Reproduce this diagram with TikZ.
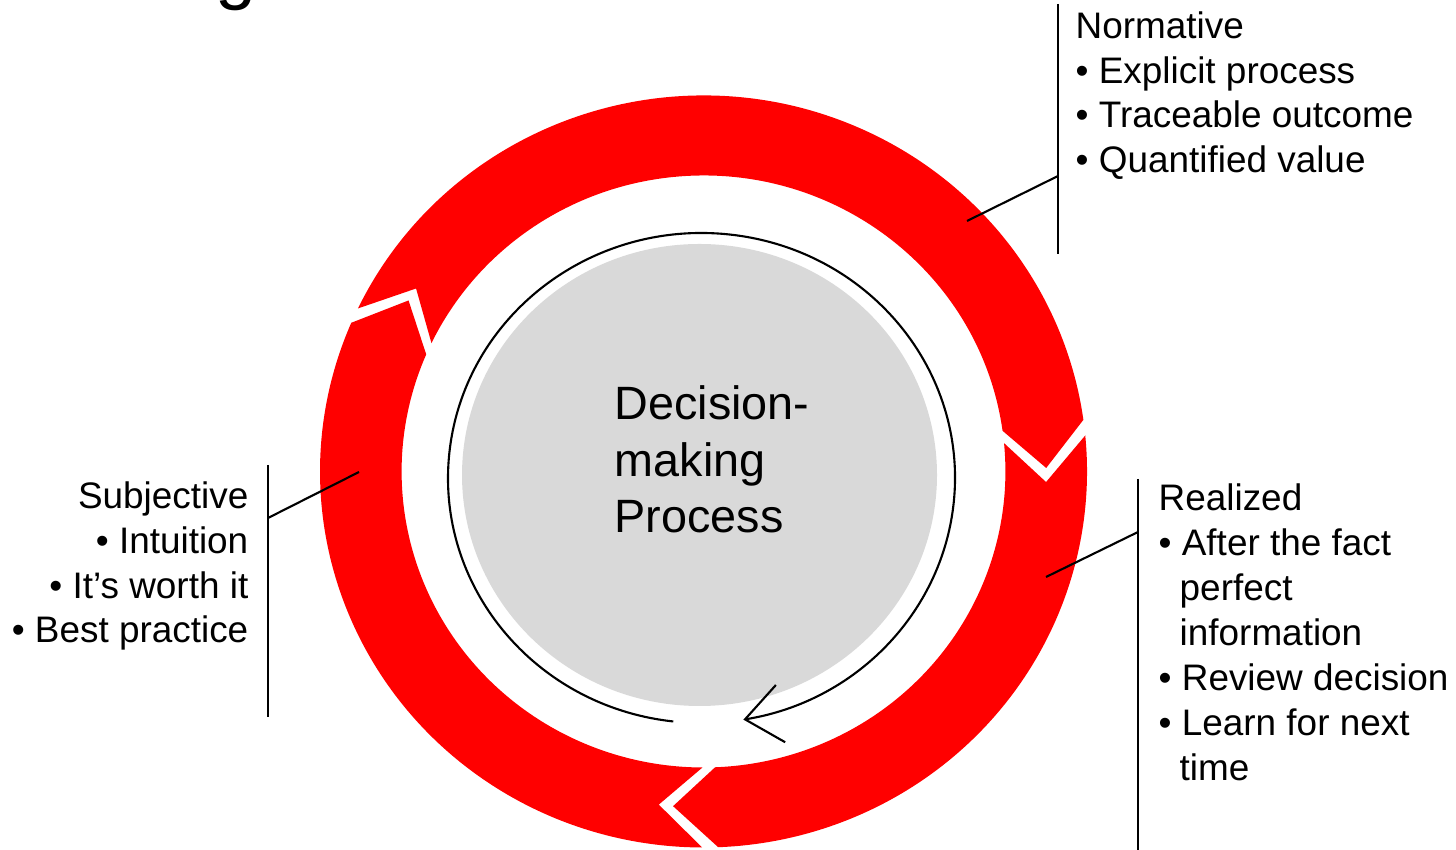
\documentclass[tikz,border=0pt]{standalone}
\usepackage{fontspec}
\setmainfont{Liberation Sans}
\usetikzlibrary{arrows.meta}
\definecolor{ringred}{RGB}{255,0,0}
\definecolor{hubgrey}{RGB}{217,217,217}

\begin{document}
\begin{tikzpicture}[]

    \tikzstyle{callout} = [inner sep=0pt, font=\fontsize{10.5}{12.8}\selectfont]
    \tikzstyle{hubtext} = [inner sep=0pt, anchor=base west, align=left, font=\fontsize{13.3}{16.2}\selectfont]
    \tikzstyle{leader} = [line width=0.6pt]
    \tikzstyle{segment} = [fill=ringred]

    \path[use as bounding box, clip] (0,0) rectangle (14.56,-8.5);

    % title, cut off by the page
    \node[inner sep=0pt, anchor=base west, font=\fontsize{21}{25}\selectfont] (title) at (2.15,0.04) {g};

    % the three arrow segments of the ring
    \begin{scope}[shift={(7.035,-4.715)}, xscale=1.02]
        \fill[segment] (154.3:3.76) arc[start angle=154.3, end angle=7.9, radius=3.76] -- (0.6:3.36) -- (7.9:2.96)
            arc[start angle=7.9, end angle=154.3, radius=2.96] -- (147:3.36) -- cycle;
        \fill[segment] (5.5:3.76) arc[start angle=5.5, end angle=-87.8, radius=3.76] -- (-95.1:3.36) -- (-87.8:2.96)
            arc[start angle=-87.8, end angle=5.5, radius=2.96] -- (-1.8:3.36) -- cycle;
        \fill[segment] (269.8:3.76) arc[start angle=269.8, end angle=156.7, radius=3.76] -- (149.4:3.36) -- (156.7:2.96)
            arc[start angle=156.7, end angle=269.8, radius=2.96] -- (262.5:3.36) -- cycle;
    \end{scope}

    % hub
    \fill[hubgrey] (6.995,-4.75) ellipse [x radius=2.375, y radius=2.31];
    \draw[line width=0.6pt, -{Straight Barb[length=0.36cm, width=0.58cm]}] (7.015,-4.78) ++(263.6:2.535 and 2.45)
        arc[start angle=263.6, end angle=-80.5, x radius=2.535, y radius=2.45];
    \node[hubtext] (hub) at (6.14,-5.33) {Decision-\\making\\Process};

    % callouts (anchored on the last line)
    \node[callout, anchor=base west, align=left] (norm) at (10.75,-1.73)
        {Normative\\• Explicit process\\• Traceable outcome\\• Quantified value};
    \node[callout, anchor=base east, align=right] (subj) at (2.49,-6.43)
        {Subjective\\• Intuition\\• It’s worth it\\• Best practice};
    \node[callout, anchor=base west, align=left] (real) at (11.58,-7.80)
        {Realized\\• After the fact\\\hspace*{0.21cm}perfect\\\hspace*{0.21cm}information\\• Review decision\\• Learn for next\\\hspace*{0.21cm}time};

    \coordinate (normtop) at (10.58,-0.04);
    \coordinate (normbot) at (10.58,-2.54);
    \coordinate (normbar) at (10.58,-1.76);
    \coordinate (normin) at (9.67,-2.21);
    \coordinate (subjtop) at (2.68,-4.65);
    \coordinate (subjbot) at (2.68,-7.17);
    \coordinate (subjbar) at (2.68,-5.18);
    \coordinate (subjin) at (3.59,-4.72);
    \coordinate (realtop) at (11.38,-4.79);
    \coordinate (realbot) at (11.38,-8.6);
    \coordinate (realbar) at (11.38,-5.32);
    \coordinate (realin) at (10.46,-5.77);

    \draw[leader] (normtop) -- (normbot);
    \draw[leader] (normin) -- (normbar);
    \draw[leader] (subjtop) -- (subjbot);
    \draw[leader] (subjin) -- (subjbar);
    \draw[leader] (realtop) -- (realbot);
    \draw[leader] (realin) -- (realbar);
\end{tikzpicture}
\end{document}
